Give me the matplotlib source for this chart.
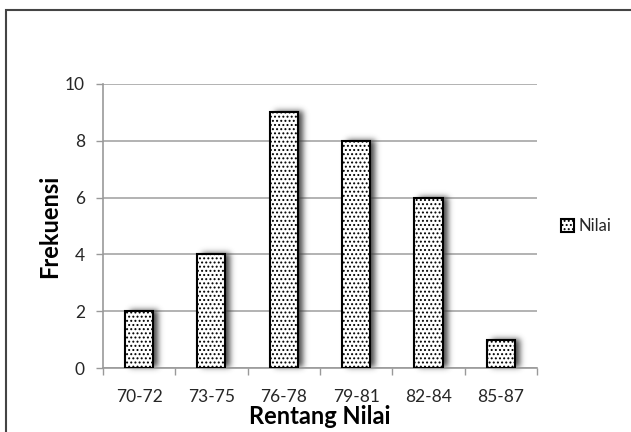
import numpy as np
import matplotlib
matplotlib.use("Agg")
import matplotlib.pyplot as plt
from matplotlib.patches import Rectangle

categories = ["70-72", "73-75", "76-78", "79-81", "82-84", "85-87"]
frekuensi = [2, 4, 9, 8, 6, 1]
y_ticks = [0, 2, 4, 6, 8, 10]
series_name = "Nilai"

plt.rcParams["font.family"] = ["Lato", "DejaVu Sans"]
plt.rcParams["hatch.linewidth"] = 0.9


def _blur1d(a, r, axis):
    k = np.exp(-0.5 * (np.arange(-3 * r, 3 * r + 1) / r) ** 2)
    k /= k.sum()
    return np.apply_along_axis(lambda v: np.convolve(v, k, mode="same"), axis, a)


def shadow_filter(im, dpi, sigma=3.0, dx=5, dy=1, pad=14):
    alpha = im[:, :, 3]
    h, w = alpha.shape
    a = np.zeros((h + 2 * pad, w + 2 * pad))
    a[pad:pad + h, pad:pad + w] = alpha
    a = _blur1d(_blur1d(a, sigma, 0), sigma, 1)
    out = np.zeros((h + 2 * pad, w + 2 * pad, 4), dtype=im.dtype)
    out[:, :, :3] = 0.25
    out[:, :, 3] = np.clip(a * 0.95, 0, 1)
    return out, -pad + dx, -pad + dy


fig = plt.figure(figsize=(6.31, 4.32), dpi=100)
ax = fig.add_axes([0.163, 0.148, 0.688, 0.658])

x = np.arange(len(categories))
width = 0.39

shadow = ax.bar(x, frekuensi, width=width, color="black", zorder=2)
for p in shadow:
    p.set_agg_filter(shadow_filter)

bars = ax.bar(x, frekuensi, width=width, color="white", edgecolor="black",
              linewidth=1.5, hatch="....", zorder=3, label=series_name)

ax.set_xlim(-0.5, len(categories) - 0.5)
ax.set_ylim(0, 10)
ax.set_yticks(y_ticks)
ax.set_xticks(x)
ax.set_xticklabels(categories)
ax.set_xticks(np.arange(-0.5, len(categories)), minor=True)
ax.tick_params(axis="x", which="major", length=0, pad=15, labelsize=12.5,
               labelcolor="#262626")
ax.tick_params(axis="x", which="minor", length=5, color="#999999", width=1)
ax.tick_params(axis="y", length=5, color="#999999", width=1, labelsize=12.5,
               labelcolor="#262626", pad=8)

for s in ("top", "right"):
    ax.spines[s].set_visible(False)
for s in ("left", "bottom"):
    ax.spines[s].set_color("#999999")
    ax.spines[s].set_linewidth(1.2)

ax.grid(axis="y", color="#a6a6a6", linewidth=1.2, zorder=0)
ax.set_axisbelow(True)

ax.set_xlabel("Rentang Nilai", fontsize=17, fontweight="bold", labelpad=0)
ax.set_ylabel("Frekuensi", fontsize=17, fontweight="bold", labelpad=3)

leg = ax.legend(loc="center left", bbox_to_anchor=(1.02, 0.5), frameon=False,
                fontsize=12, handlelength=0.8, handleheight=0.8, handletextpad=0.25)
for t in leg.get_texts():
    t.set_color("#262626")

# outer chart frame
fig.add_artist(Rectangle((6 / 631, -0.05), 1.2, 1 - 10 / 432 + 0.05,
                         transform=fig.transFigure, fill=False,
                         edgecolor="#444444", linewidth=1.5))

fig.savefig("out.png", dpi=100)
